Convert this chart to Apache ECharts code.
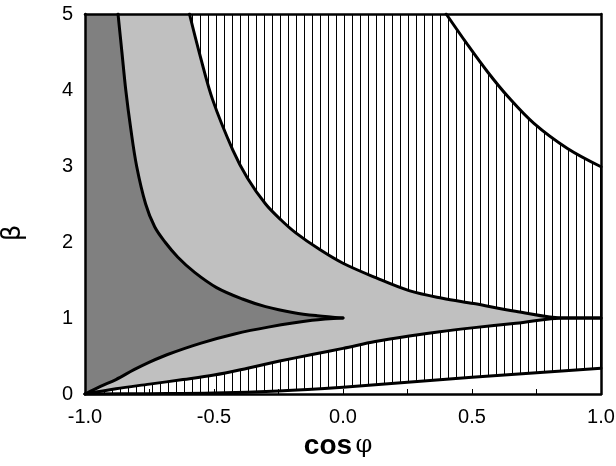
<!DOCTYPE html>
<html>
<head>
<meta charset="utf-8">
<script src="https://cdn.jsdelivr.net/npm/echarts@6/dist/echarts.min.js"></script>
<style>
html,body{margin:0;padding:0;background:#fff;}
#chart{width:616px;height:466px;}
</style>
</head>
<body>
<div id="chart"></div>
<script>
// ---- data ----
const xTickValues = [-1, -0.5, 0, 0.5, 1];
const xTickLabels = ['-1.0', '-0.5', '0.0', '0.5', '1.0'];
const yTickLabels = ['0', '1', '2', '3', '4', '5'];

const innerUpper = [[-0.872,5],[-0.857,4.5],[-0.842,4],[-0.823,3.5],[-0.80,3],[-0.765,2.5],[-0.73,2.2],[-0.69,2.0],[-0.64,1.8],[-0.575,1.6],[-0.49,1.4],[-0.39,1.25],[-0.30,1.15],[-0.19,1.07],[-0.10,1.03],[0,1]];
const innerLower = [[-1,0],[-0.94,0.1],[-0.88,0.19],[-0.81,0.32],[-0.75,0.42],[-0.68,0.52],[-0.55,0.67],[-0.42,0.79],[-0.29,0.88],[-0.12,0.97],[0,1]];
const outerUpper = [[-0.595,5],[-0.556,4.48],[-0.505,3.87],[-0.427,3.21],[-0.37,2.84],[-0.30,2.50],[-0.24,2.29],[-0.183,2.12],[-0.09,1.90],[0,1.72],[0.127,1.53],[0.256,1.36],[0.385,1.26],[0.507,1.19],[0.668,1.09],[0.86,1.0],[1,1]];
const outerLower = [[-1,0],[-0.88,0.07],[-0.75,0.13],[-0.62,0.19],[-0.5,0.25],[-0.37,0.34],[-0.25,0.43],[-0.12,0.52],[0,0.6],[0.125,0.69],[0.25,0.76],[0.375,0.82],[0.5,0.87],[0.67,0.93],[0.86,1.0],[1,1]];
const topCurve = [[0.40,5],[0.48,4.61],[0.56,4.24],[0.64,3.91],[0.74,3.56],[0.87,3.23],[1,2.99]];
const bottomCurve = [[-1,0],[-0.75,0.004],[-0.5,0.012],[-0.25,0.04],[0,0.09],[0.25,0.155],[0.5,0.22],[0.75,0.28],[1,0.34]];

// ---- styles ----
const DARK = '#808080';
const LIGHT = '#c0c0c0';
const hatchCanvas = document.createElement('canvas');
hatchCanvas.width = 8; hatchCanvas.height = 8;
(function(){
  const c = hatchCanvas.getContext('2d');
  c.fillStyle = '#ffffff'; c.fillRect(0,0,8,8);
  c.fillStyle = '#000000'; c.fillRect(0,0,1,8);
})();
const HATCH = {image: hatchCanvas, repeat: 'repeat'};
const SMOOTH = 0.35;

function fill(name, data, color, origin, z) {
  return {
    name: name, type: 'line', data: data, symbol: 'none', smooth: SMOOTH,
    lineStyle: {width: 0, opacity: 0}, areaStyle: {color: color, opacity: 1, origin: origin},
    z: z, silent: true
  };
}
function stroke(name, data) {
  return {
    name: name, type: 'line', data: data, symbol: 'none', smooth: SMOOTH,
    lineStyle: {width: 3, color: '#000', join: 'round', cap: 'round'}, z: 20, silent: true
  };
}

// the light fill above the inner-upper curve continues along the merged beta = 1 line (avoids a seam at the cusp)
const innerUpperFill = innerUpper.concat(outerLower.slice(-1));

const chart = echarts.init(document.getElementById('chart'), null, {renderer: 'canvas'});
const labelFont = {fontFamily: 'Liberation Sans, Arial, sans-serif', fontSize: 20, color: '#000'};

chart.setOption({
  animation: false,
  backgroundColor: '#fff',
  grid: {left: 85, right: 15, top: 14, bottom: 72, containLabel: false, outerBoundsMode: 'none'},
  xAxis: [{
    type: 'value', min: -1, max: 1, interval: 0.25, z: 30,
    axisLine: {show: true, onZero: false, lineStyle: {color: '#000', width: 2.5}},
    axisTick: {show: true, inside: true, length: 5, lineStyle: {color: '#000', width: 1}},
    splitLine: {show: false},
    axisLabel: Object.assign({margin: 13, formatter: function(v){
      const i = xTickValues.findIndex(t => Math.abs(t - v) < 1e-9);
      return i >= 0 ? xTickLabels[i] : '';
    }}, labelFont),
    name: '{a|cos} {b|φ}', nameLocation: 'middle', nameGap: 30,
    nameTextStyle: {padding: [0, 10, 0, 0], rich: {
      a: {fontFamily: 'Liberation Sans, Arial, sans-serif', fontWeight: 'bold', fontSize: 28, color: '#000'},
      b: {fontFamily: 'DejaVu Serif, serif', fontSize: 24, color: '#000'}
    }}
  }, {
    type: 'value', min: -1, max: 1, position: 'top', z: 30,
    axisLine: {show: true, onZero: false, lineStyle: {color: '#000', width: 2.5}},
    axisTick: {show: false}, axisLabel: {show: false}, splitLine: {show: false}
  }],
  yAxis: [{
    type: 'value', min: 0, max: 5, interval: 1, z: 30,
    axisLine: {show: true, onZero: false, lineStyle: {color: '#000', width: 2.5}},
    axisTick: {show: false},
    splitLine: {show: false},
    axisLabel: Object.assign({margin: 12, formatter: function(v){ return yTickLabels[Math.round(v)]; }}, labelFont),
    name: 'β', nameLocation: 'middle', nameGap: 59, nameRotate: 90,
    nameTextStyle: {fontFamily: 'DejaVu Sans, sans-serif', fontSize: 26, color: '#000', padding: [0, 58, 0, 0]}
  }, {
    type: 'value', min: 0, max: 5, position: 'right', z: 30,
    axisLine: {show: true, onZero: false, lineStyle: {color: '#000', width: 2.5}},
    axisTick: {show: false}, axisLabel: {show: false}, splitLine: {show: false}
  }],
  series: [
    fill('hatch-base', bottomCurve, HATCH, 'end', 2),
    fill('light-outer', outerLower, LIGHT, 'end', 3),
    fill('dark-inner', innerLower, DARK, 'end', 4),
    fill('light-inner', innerUpperFill, LIGHT, 'end', 5),
    fill('hatch-upper', outerUpper, HATCH, 'end', 6),
    fill('white-top', topCurve, '#ffffff', 'end', 7),
    stroke('bottom', bottomCurve),
    stroke('outer-lower', outerLower),
    stroke('inner-lower', innerLower),
    stroke('inner-upper', innerUpper),
    stroke('outer-upper', outerUpper),
    stroke('top', topCurve)
  ]
});
</script>
</body>
</html>
